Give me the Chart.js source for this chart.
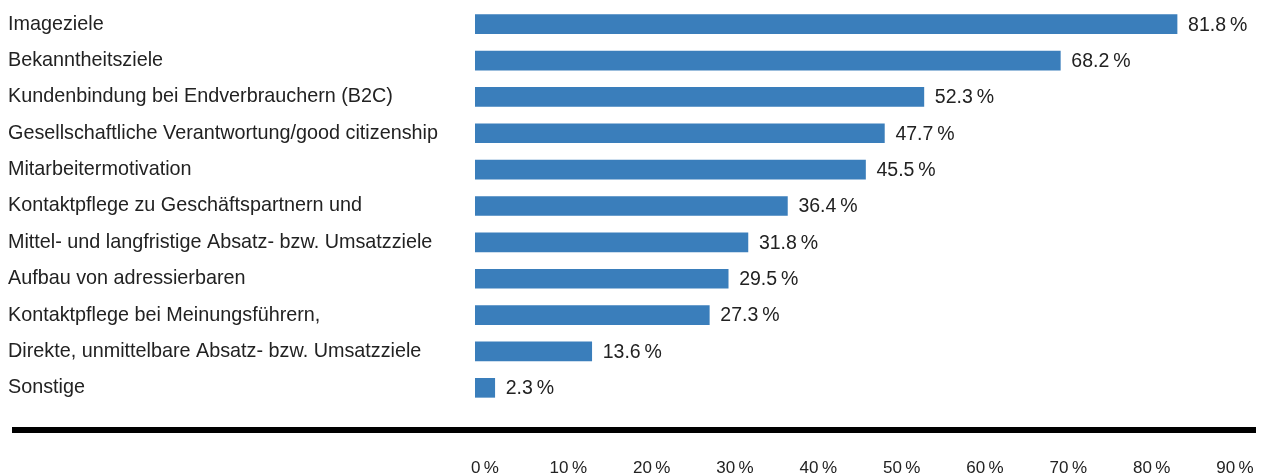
<!DOCTYPE html>
<html>
<head>
<meta charset="utf-8">
<script src="https://cdn.jsdelivr.net/npm/chart.js@4.4.1/dist/chart.umd.min.js"></script>
<style>
  html, body { margin: 0; padding: 0; background: #fff; }
  #wrap { position: relative; width: 1263px; height: 475px; }
</style>
</head>
<body>
<div id="wrap"><canvas id="zieleChart"></canvas></div>
<script>
// Data
const categories = [
  "Imageziele",
  "Bekanntheitsziele",
  "Kundenbindung bei Endverbrauchern (B2C)",
  "Gesellschaftliche Verantwortung/good citizenship",
  "Mitarbeitermotivation",
  "Kontaktpflege zu Geschäftspartnern und",
  "Mittel- und langfristige Absatz- bzw. Umsatzziele",
  "Aufbau von adressierbaren",
  "Kontaktpflege bei Meinungsführern,",
  "Direkte, unmittelbare Absatz- bzw. Umsatzziele",
  "Sonstige",
]
const shares = [81.8, 68.2, 52.3, 47.7, 45.5, 36.4, 31.8, 29.5, 27.3, 13.6, 2.3]
const tickValues = [0, 10, 20, 30, 40, 50, 60, 70, 80, 90]
const tickLabels = ["0\u2009%", "10\u2009%", "20\u2009%", "30\u2009%", "40\u2009%", "50\u2009%", "60\u2009%", "70\u2009%", "80\u2009%", "90\u2009%"]

const FONT = "'Liberation Sans', Arial, sans-serif"
const TEXT = "#222"

// Value labels right of each bar
const valueLabels = {
  id: "valueLabels",
  afterDatasetsDraw(chart) {
    const ctx = chart.ctx
    const meta = chart.getDatasetMeta(0)
    ctx.save()
    ctx.font = "19.5px " + FONT
    ctx.fillStyle = TEXT
    ctx.textAlign = "left"
    ctx.textBaseline = "middle"
    meta.data.forEach((bar, i) => {
      const txt = shares[i].toFixed(1) + "\u2009%"
      ctx.fillText(txt, bar.x + 11, bar.y + 1)
    })
    ctx.restore()
  },
}

// Thick black rule above the percent scale
const baseRule = {
  id: "baseRule",
  afterDraw(chart) {
    const ctx = chart.ctx
    ctx.save()
    ctx.strokeStyle = "#000"
    ctx.lineWidth = 6
    ctx.beginPath()
    ctx.moveTo(12, 430)
    ctx.lineTo(chart.chartArea.right, 430)
    ctx.stroke()
    ctx.restore()
  },
}

const noPad = (scale) => {
  scale.paddingLeft = 0
  scale.paddingRight = 0
  scale.paddingTop = 0
  scale.paddingBottom = 0
}

const ctx = document.getElementById("zieleChart").getContext("2d")
new Chart(ctx, {
  type: "bar",
  data: {
    labels: categories,
    datasets: [
      {
        data: shares,
        backgroundColor: "#3a7ebb",
        barThickness: 19,
      },
    ],
  },
  options: {
    indexAxis: "y",
    responsive: true,
    maintainAspectRatio: false,
    animation: false,
    layout: { padding: { left: 8, right: 7, top: 6, bottom: 0 } },
    plugins: {
      legend: { display: false },
      tooltip: { enabled: false },
    },
    scales: {
      x: {
        display: false,
        min: 0,
        max: 91,
      },
      x2: {
        position: "bottom",
        axis: "x",
        min: -1.2,
        max: 92.52,
        grid: { display: false, drawTicks: false },
        border: { display: false },
        afterFit: (scale) => {
          scale.height = 69
          noPad(scale)
        },
        afterBuildTicks: (scale) => {
          scale.ticks = tickValues.map((v) => ({ value: v }))
        },
        ticks: {
          padding: 52,
          color: TEXT,
          font: { family: FONT, size: 17 },
          callback: (v) => tickLabels[tickValues.indexOf(v)],
        },
      },
      y: {
        grid: { display: false, drawTicks: false },
        border: { display: false },
        afterFit: (scale) => {
          scale.width = 467
          noPad(scale)
        },
        ticks: {
          crossAlign: "far",
          color: TEXT,
          font: { family: FONT, size: 19.8 },
        },
      },
    },
  },
  plugins: [valueLabels, baseRule],
})
</script>
</body>
</html>
